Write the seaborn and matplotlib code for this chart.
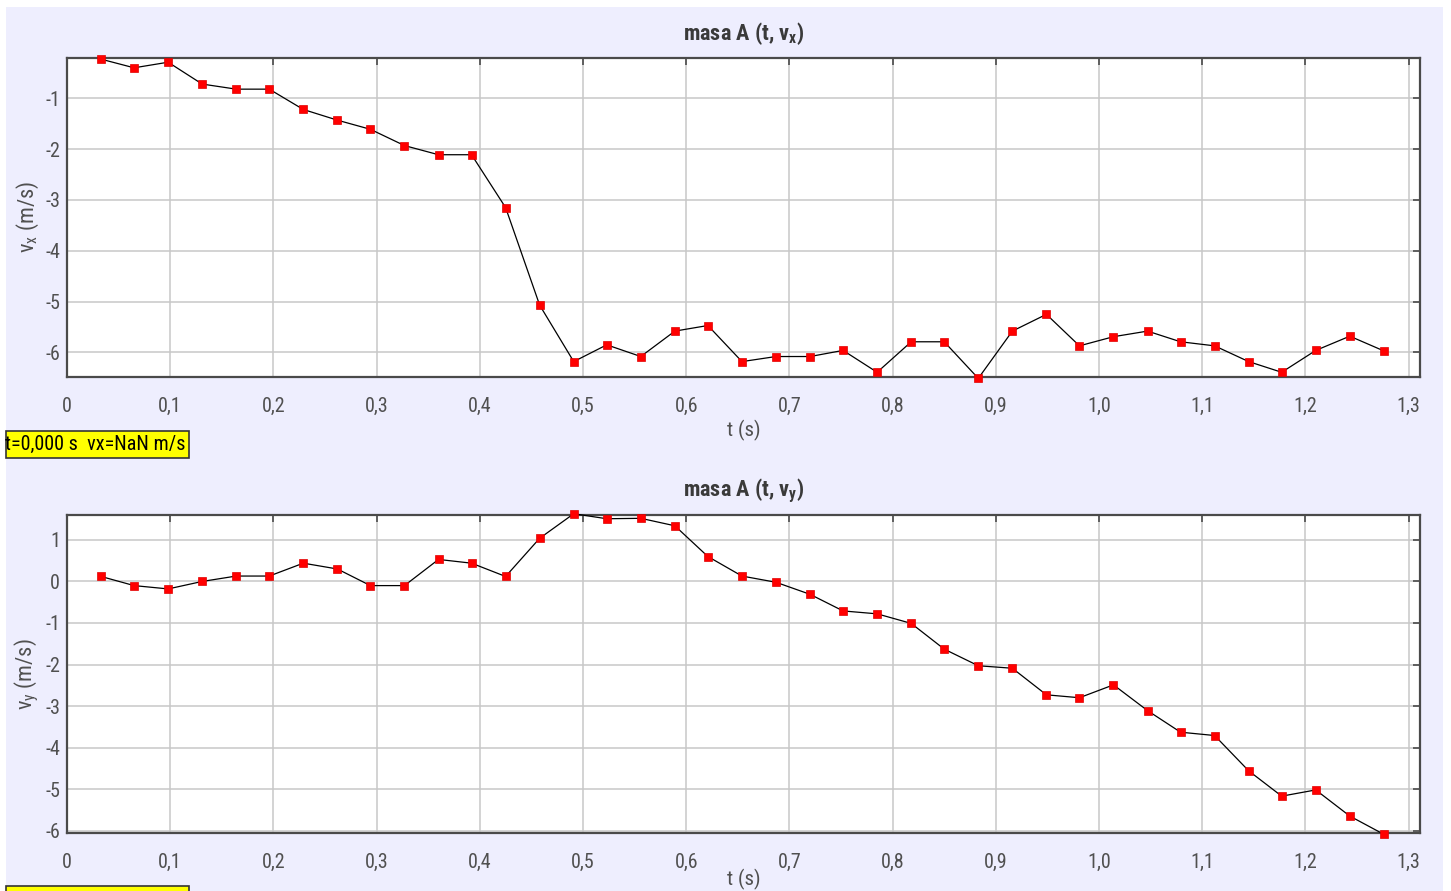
import matplotlib
matplotlib.use("Agg")
import matplotlib.pyplot as plt
from matplotlib.patches import Rectangle
from matplotlib import font_manager
import seaborn as sns
import pandas as pd

# ---------------- data ----------------
t = [0.033, 0.065, 0.098, 0.131, 0.164, 0.196, 0.229, 0.262, 0.294, 0.327,
     0.360, 0.392, 0.425, 0.458, 0.491, 0.523, 0.556, 0.589, 0.621, 0.654,
     0.687, 0.720, 0.752, 0.785, 0.818, 0.850, 0.883, 0.916, 0.949, 0.981,
     1.014, 1.047, 1.079, 1.112, 1.145, 1.177, 1.210, 1.243, 1.276]

vx = [-0.23, -0.40, -0.29, -0.72, -0.82, -0.82, -1.22, -1.43, -1.61, -1.93,
      -2.11, -2.11, -3.15, -5.07, -6.18, -5.85, -6.08, -5.58, -5.47, -6.18,
      -6.08, -6.08, -5.96, -6.39, -5.79, -5.79, -6.51, -5.58, -5.25, -5.87,
      -5.69, -5.58, -5.79, -5.87, -6.18, -6.39, -5.96, -5.68, -5.97]

vy = [0.12, -0.10, -0.18, 0.00, 0.13, 0.13, 0.44, 0.30, -0.10, -0.10,
      0.53, 0.44, 0.12, 1.04, 1.63, 1.51, 1.52, 1.34, 0.60, 0.13,
      -0.02, -0.31, -0.71, -0.78, -1.01, -1.63, -2.03, -2.09, -2.73, -2.80,
      -2.49, -3.11, -3.63, -3.71, -4.56, -5.17, -5.02, -5.65, -6.09]

x_ticks = [0.0, 0.1, 0.2, 0.3, 0.4, 0.5, 0.6, 0.7, 0.8, 0.9, 1.0, 1.1, 1.2, 1.3]
x_ticklabels = ["0", "0,1", "0,2", "0,3", "0,4", "0,5", "0,6", "0,7", "0,8",
                "0,9", "1,0", "1,1", "1,2", "1,3"]
vx_ticks = [-1, -2, -3, -4, -5, -6]
vy_ticks = [1, 0, -1, -2, -3, -4, -5, -6]

title_x = r"masa A (t, $\mathbf{v_x}$)"
title_y = r"masa A (t, $\mathbf{v_y}$)"
ylabel_x = r"$\mathregular{v_x}$ (m/s)"
ylabel_y = r"$\mathregular{v_y}$ (m/s)"
xlabel = "t (s)"
status_text = "t=0,000 s  vx=NaN m/s"

# ---------------- fonts ----------------
sns.set_theme(style="white")
names = {f.name for f in font_manager.fontManager.ttflist}
narrow = None
for cand in ["Liberation Sans Narrow", "Arial Narrow", "Roboto Condensed",
             "Open Sans Condensed", "Noto Sans Condensed", "DejaVu Sans Condensed"]:
    if cand in names:
        narrow = cand
        break
if narrow is None:
    for n in sorted(names):
        if "Narrow" in n or "Condensed" in n:
            narrow = n
            break
if narrow is None:
    narrow = "Liberation Sans"
    SCALE = 0.88
else:
    SCALE = 1.0

plt.rcParams["font.family"] = [narrow, "Liberation Sans", "DejaVu Sans"]
plt.rcParams["mathtext.fontset"] = "custom"
plt.rcParams["mathtext.rm"] = narrow
plt.rcParams["mathtext.it"] = narrow
plt.rcParams["mathtext.bf"] = narrow + ":bold"

BG = "#EEEEFE"
GRID = "#C8C8C8"
SPINE = "#4A4A4A"
TXT = "#505050"

W, H = 1451, 891
fig = plt.figure(figsize=(W / 100, H / 100), dpi=100, facecolor="white")
bg = Rectangle((6 / W, 0), (1443 - 6) / W, 1 - 7 / H,
               transform=fig.transFigure, facecolor=BG, edgecolor="none",
               zorder=-10)
fig.add_artist(bg)

def px_axes(x0, y0, x1, y1):
    return fig.add_axes([x0 / W, 1 - y1 / H, (x1 - x0) / W, (y1 - y0) / H])

ax1 = px_axes(67, 58.3, 1420, 376.7)
ax2 = px_axes(67, 515, 1420, 832.7)

df = pd.DataFrame({"t": t, "vx": vx, "vy": vy})

for ax, col, ticks, ylim, title, ylab, xpad in [
    (ax1, "vx", vx_ticks, (-6.477, -0.213), title_x, ylabel_x, 3),
    (ax2, "vy", vy_ticks, (-6.05, 1.60), title_y, ylabel_y, -2),
]:
    ax.set_facecolor("white")
    sns.lineplot(data=df, x="t", y=col, ax=ax, color="black", linewidth=0.9,
                 marker="s", markersize=5.2, markerfacecolor="#FF0000",
                 markeredgecolor="#E00000", markeredgewidth=0.5,
                 clip_on=False, zorder=3)
    ax.set_xlim(0, 1.311)
    ax.set_ylim(*ylim)
    ax.set_xticks(x_ticks)
    ax.set_xticklabels(x_ticklabels)
    ax.set_yticks(ticks)
    ax.set_yticklabels([str(v) for v in ticks])
    ax.grid(True, color=GRID, linewidth=1.1)
    ax.set_axisbelow(True)
    for sp in ax.spines.values():
        sp.set_color(SPINE)
        sp.set_linewidth(1.6)
    ax.tick_params(axis="both", which="major", direction="in", length=5,
                   width=1.2, color=SPINE, top=True, right=True,
                   labelcolor=TXT, labelsize=14.5 * SCALE)
    ax.tick_params(axis="x", pad=14.5)
    ax.tick_params(axis="y", pad=5)
    ax.set_title(title, fontsize=16 * SCALE, fontweight="bold", color="#3A3A3A", pad=13.5)
    ax.set_xlabel(xlabel, fontsize=15 * SCALE, color=TXT, labelpad=xpad)
    ax.set_ylabel(ylab, fontsize=16 * SCALE, color=TXT, labelpad=3)

# status boxes
for y0 in (431, 886):
    fig.add_artist(Rectangle((6 / W, 1 - (y0 + 27) / H), (189 - 6) / W, 27 / H,
                             transform=fig.transFigure, facecolor="#FFFF00",
                             edgecolor="#333333", linewidth=1.2, zorder=5))
fig.text(5 / W, 1 - 444.5 / H, status_text, fontsize=14.5 * SCALE, color="black",
         ha="left", va="center", zorder=6)

fig.savefig("out.png", dpi=100, facecolor=fig.get_facecolor())
